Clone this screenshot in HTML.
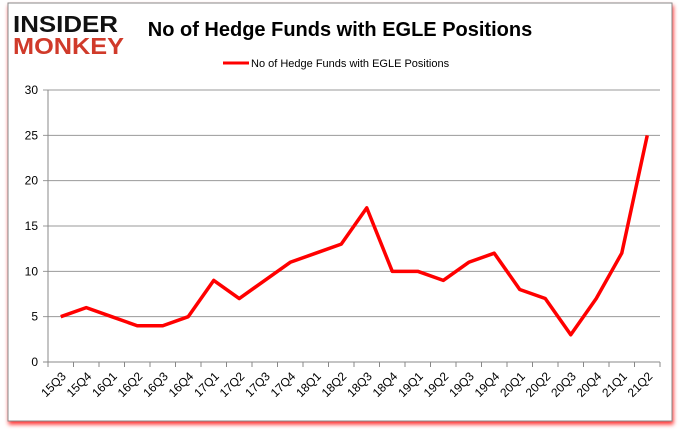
<!DOCTYPE html>
<html><head><meta charset="utf-8"><style>
body{margin:0;background:#fff;width:680px;height:433px;overflow:hidden;font-family:"Liberation Sans",sans-serif}
</style></head><body>
<svg width="680" height="433">
<defs><filter id="sh" x="-5%" y="-5%" width="110%" height="115%"><feDropShadow dx="1" dy="3" stdDeviation="2" flood-color="#f00" flood-opacity="0.8"/></filter></defs>
<rect x="8" y="3" width="664" height="418" fill="#fff" stroke="#888" filter="url(#sh)"/>
<g font-family="'Liberation Sans',sans-serif" font-weight="bold">
<text x="13" y="32" font-size="23" fill="#111" textLength="105" lengthAdjust="spacingAndGlyphs">INSIDER</text>
<text x="13" y="54" font-size="23" fill="#d03a2a" textLength="111" lengthAdjust="spacingAndGlyphs">MONKEY</text>
</g>
<text x="340" y="36" text-anchor="middle" font-size="20" font-weight="bold" fill="#000">No of Hedge Funds with EGLE Positions</text>
<g>
<line x1="223" y1="63" x2="249" y2="63" stroke="#f00" stroke-width="3"/>
<text x="251" y="67" font-size="11" fill="#000">No of Hedge Funds with EGLE Positions</text>
</g>
<g id="grid"></g><g id="xax"></g>
<polyline id="line" fill="none" stroke="#f00" stroke-width="3.5" stroke-linejoin="round"/>
</svg>
<script>
const categories=["15Q3","15Q4","16Q1","16Q2","16Q3","16Q4","17Q1","17Q2","17Q3","17Q4","18Q1","18Q2","18Q3","18Q4","19Q1","19Q2","19Q3","19Q4","20Q1","20Q2","20Q3","20Q4","21Q1","21Q2"];
const values=[5,6,5,4,4,5,9,7,9,11,12,13,17,10,10,9,11,12,8,7,3,7,12,25];
const yTicks=[0,5,10,15,20,25,30];
const X0=48,X1=660,Y0=362,Y1=90,ns="http://www.w3.org/2000/svg";
const bw=(X1-X0)/categories.length;
const x=i=>X0+bw*(i+0.5), y=v=>Y0-(v/30)*(Y0-Y1);
const g=document.getElementById('grid'),xa=document.getElementById('xax');
function mk(t,a,p){const e=document.createElementNS(ns,t);for(const k in a)e.setAttribute(k,a[k]);p.appendChild(e);return e;}
yTicks.forEach(v=>{
 const l=mk('line',{x1:X0-5,x2:X1,y1:y(v),y2:y(v),stroke:v?'#999':'#888'},g);
 
 
 const t=mk('text',{x:X0-10,y:y(v)+4,'text-anchor':'end','font-size':12,fill:'#000'},g);
 t.textContent=v;
 
 
});
const ax=mk('line',{x1:X0,x2:X0,y1:Y1,y2:Y0,stroke:'#888'},g);


categories.forEach((c,i)=>{
 const tk=mk('line',{x1:X0+bw*i,x2:X0+bw*i,y1:Y0,y2:Y0+5,stroke:'#888'},xa);
 
 
 const t=mk('text',{x:0,y:0,'text-anchor':'end','font-size':12,fill:'#000',transform:`translate(${x(i)+6},${Y0+15}) rotate(-45)`},xa);
 t.textContent=c;
 
 
});
const tk=mk('line',{x1:X1,x2:X1,y1:Y0,y2:Y0+5,stroke:'#888'},xa);
document.getElementById('line').setAttribute('points',values.map((v,i)=>x(i)+','+y(v)).join(' '));
</script>
</body></html>
